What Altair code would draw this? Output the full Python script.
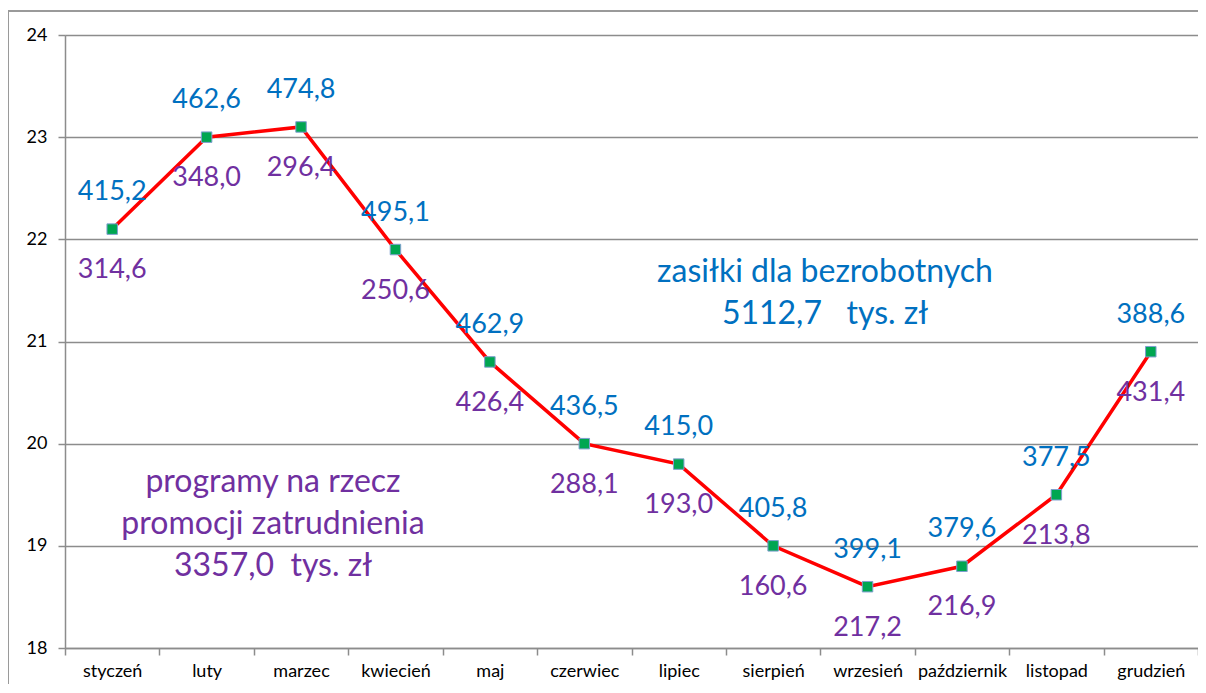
import altair as alt
import pandas as pd

# ---- data ----
months = ["styczeń", "luty", "marzec", "kwiecień", "maj", "czerwiec",
          "lipiec", "sierpień", "wrzesień", "październik", "listopad", "grudzień"]
rate = [22.1, 23.0, 23.1, 21.9, 20.8, 20.0, 19.8, 19.0, 18.6, 18.8, 19.5, 20.9]
benefits = [415.2, 462.6, 474.8, 495.1, 462.9, 436.5, 415.0, 405.8, 399.1, 379.6, 377.5, 388.6]
programs = [314.6, 348.0, 296.4, 250.6, 426.4, 288.1, 193.0, 160.6, 217.2, 216.9, 213.8, 431.4]
y_ticks = [18, 19, 20, 21, 22, 23, 24]
benefits_note = ["zasiłki dla bezrobotnych", "5112,7\u00a0\u00a0 tys. zł"]
programs_note = ["programy na rzecz", "promocji zatrudnienia", "3357,0\u00a0 tys. zł"]


def pl(v):
    return f"{v:.1f}".replace(".", ",")


df = pd.DataFrame({
    "month": months,
    "rate": rate,
    "benefit": [pl(v) for v in benefits],
    "program": [pl(v) for v in programs],
})

FONT = "Lato"
BLUE = "#0070C0"
PURPLE = "#7030A0"
GRID = "#8c8c8c"

x = alt.X(
    "month:N", sort=months,
    scale=alt.Scale(type="band", paddingInner=0, paddingOuter=0),
    axis=alt.Axis(title=None, labelAngle=0, tickBand="extent", grid=False,
                  labelFontSize=18, labelFont=FONT, labelColor="#000000",
                  labelPadding=7, domainColor=GRID, domainWidth=1.5,
                  tickColor=GRID, tickWidth=1.5, tickSize=7),
)
y = alt.Y(
    "rate:Q",
    scale=alt.Scale(domain=[18, 24], nice=False, zero=False),
    axis=alt.Axis(title=None, values=y_ticks, format="d", grid=True,
                  gridColor=GRID, gridWidth=1.5, labelFontSize=18,
                  labelFont=FONT, labelColor="#000000", labelPadding=11,
                  domainColor=GRID, domainWidth=1.5, tickColor=GRID,
                  tickWidth=1.5, tickSize=7),
)

base = alt.Chart(df).encode(x=x, y=y)

line = base.mark_line(color="#FF0000", strokeWidth=3.5)
pts = base.mark_point(shape="square", filled=True, size=110, fill="#00A651",
                      stroke="#7F9FCF", strokeWidth=1, opacity=1)
top_lbl = base.mark_text(dy=-37, font=FONT, fontSize=27, color=BLUE).encode(text="benefit:N")
bot_lbl = base.mark_text(dy=41, font=FONT, fontSize=27, color=PURPLE).encode(text="program:N")

note1 = alt.Chart(pd.DataFrame({"t": ["\n".join(benefits_note)]})).mark_text(
    lineBreak="\n", font=FONT, fontSize=32, lineHeight=42, color=BLUE,
    align="center", baseline="middle"
).encode(x=alt.value(760), y=alt.value(237), text="t:N")

note2 = alt.Chart(pd.DataFrame({"t": ["\n".join(programs_note)]})).mark_text(
    lineBreak="\n", font=FONT, fontSize=32, lineHeight=42, color=PURPLE,
    align="center", baseline="middle"
).encode(x=alt.value(208), y=alt.value(447), text="t:N")

# outer chart-area border (left and top edges visible in reference)
border_left = alt.Chart(df).mark_rule(color="#9a9a9a", strokeWidth=1.5).encode(
    x=alt.value(-57), y=alt.value(-24), y2=alt.value(660))
border_top = alt.Chart(df).mark_rule(color="#9a9a9a", strokeWidth=1.5).encode(
    x=alt.value(-57), x2=alt.value(1140), y=alt.value(-24))

chart = alt.layer(border_left, border_top, line, pts, top_lbl, bot_lbl, note1, note2).properties(
    width=1133, height=613,
    autosize=alt.AutoSizeParams(type="none"),
    padding={"left": 57, "top": 27, "right": 0, "bottom": 36},
).configure_view(stroke=None).configure(background="white")

chart.save("out.html", embed_options={"renderer": "svg", "actions": False})
